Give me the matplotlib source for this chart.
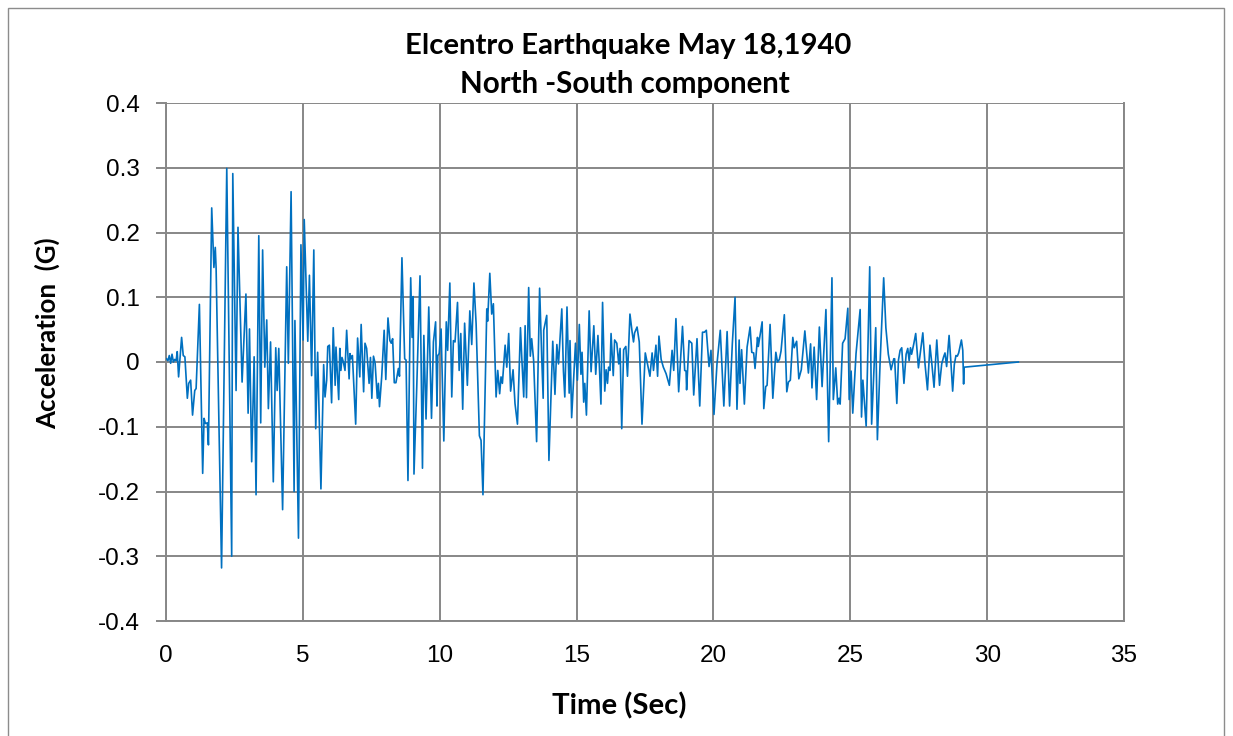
import matplotlib
matplotlib.use("Agg")
import matplotlib.pyplot as plt
from matplotlib.patches import Rectangle

title_lines = ["Elcentro Earthquake May 18,1940", "North -South component"]
x_label = "Time (Sec)"
y_label = "Acceleration  (G)"
x_ticks = [0, 5, 10, 15, 20, 25, 30, 35]
y_ticks = [-0.4, -0.3, -0.2, -0.1, 0.0, 0.1, 0.2, 0.3, 0.4]
y_tick_labels = ["-0.4", "-0.3", "-0.2", "-0.1", "0", "0.1", "0.2", "0.3", "0.4"]

# Ground acceleration record (time in seconds, acceleration in g)
time_s = [
    0.02, 0.07, 0.12, 0.17, 0.22, 0.27, 0.32, 0.37, 0.41, 0.46, 0.51, 0.57, 0.63, 0.69,
    0.78, 0.83, 0.90, 0.97, 1.05, 1.10, 1.22, 1.34, 1.39, 1.44, 1.51, 1.55, 1.67, 1.75,
    1.80, 1.83, 2.03, 2.22, 2.40, 2.44, 2.56, 2.63, 2.78, 2.92, 3.00, 3.05, 3.13, 3.22,
    3.29, 3.39, 3.46, 3.53, 3.61, 3.68,
    3.74, 3.82, 3.92, 4.01, 4.06, 4.12, 4.26, 4.41, 4.47, 4.57, 4.68, 4.71, 4.84, 4.93,
    5.01, 5.05, 5.18, 5.24, 5.32, 5.40, 5.47, 5.54, 5.66, 5.76, 5.81, 5.87, 5.91, 5.97,
    6.05, 6.11, 6.18, 6.21, 6.31, 6.35, 6.39, 6.43, 6.48, 6.54, 6.60, 6.69, 6.72, 6.76,
    6.81, 6.93, 7.00, 7.08, 7.13, 7.22, 7.27, 7.33, 7.42, 7.47, 7.52, 7.58, 7.64,
    7.72, 7.76, 7.80, 7.88, 7.97, 8.03, 8.11, 8.18, 8.23, 8.28, 8.34, 8.40, 8.49, 8.53,
    8.62, 8.72, 8.77, 8.84, 8.94, 8.99, 9.03, 9.06, 9.16, 9.28, 9.37, 9.42, 9.50, 9.60,
    9.70, 9.77, 9.85, 9.90, 9.93, 9.98, 10.05, 10.15, 10.24, 10.29, 10.37, 10.44, 10.50,
    10.56, 10.65, 10.71, 10.77, 10.84, 10.91, 11.01, 11.10, 11.17, 11.25, 11.33, 11.45,
    11.51, 11.58, 11.72, 11.75, 11.83, 11.90, 11.96, 12.06, 12.12, 12.19, 12.24, 12.29,
    12.39, 12.45, 12.52, 12.59, 12.68, 12.75, 12.84, 12.95, 13.00, 13.07, 13.12, 13.17,
    13.25, 13.31, 13.36, 13.43, 13.54, 13.65, 13.73, 13.78, 13.80, 13.91, 13.99, 14.13,
    14.21, 14.28, 14.34, 14.46, 14.52, 14.57, 14.65, 14.73, 14.76, 14.82, 14.96, 15.03,
    15.10, 15.16, 15.20, 15.26,
    15.30, 15.36, 15.46, 15.53, 15.63, 15.70, 15.78, 15.83, 15.89, 15.95, 16.03, 16.08,
    16.13, 16.17, 16.22, 16.26, 16.34, 16.39, 16.47, 16.54, 16.59, 16.65, 16.72, 16.80,
    16.86, 16.95, 17.03, 17.08, 17.12, 17.21, 17.29, 17.39, 17.51, 17.59, 17.68, 17.76,
    17.81, 17.90, 17.96, 18.01, 18.09, 18.17, 18.27, 18.39, 18.49, 18.55, 18.63, 18.73,
    18.87, 18.95, 19.00,
    19.02, 19.11, 19.21, 19.28, 19.40, 19.50, 19.60, 19.67, 19.74, 19.84, 19.91, 20.02,
    20.13, 20.25, 20.38, 20.50, 20.59, 20.69, 20.79, 20.86, 20.94, 20.97, 21.03, 21.13,
    21.23, 21.34, 21.40, 21.47, 21.52, 21.61, 21.64, 21.78, 21.84, 21.91, 21.96, 22.07,
    22.17, 22.28, 22.34, 22.41, 22.47, 22.59, 22.68, 22.74, 22.81,
    22.90, 22.95, 23.04, 23.12, 23.21, 23.34, 23.47, 23.55, 23.60, 23.68, 23.77, 23.87,
    23.97, 24.11, 24.21, 24.33, 24.38, 24.47, 24.54, 24.59, 24.63, 24.72, 24.81, 24.91,
    24.96, 25.03, 25.09, 25.21, 25.36, 25.41, 25.46, 25.58, 25.71, 25.78, 25.93, 25.99,
    26.09, 26.22, 26.30, 26.39, 26.49, 26.59, 26.62, 26.70,
    26.76, 26.82, 26.88, 26.96, 27.04, 27.10, 27.15, 27.20, 27.24, 27.32, 27.39, 27.49,
    27.56, 27.65, 27.73, 27.82, 27.91, 27.98, 28.06, 28.16, 28.26, 28.34, 28.41, 28.46,
    28.52, 28.61, 28.68, 28.74, 28.80, 28.86, 28.91, 28.96, 29.06, 29.11, 29.14, 29.16,
    31.14,
]

accel_g = [
    0.005, 0.002, 0.010, -0.002, 0.012, 0.000, 0.004, 0.002, 0.016, -0.023, 0.005, 0.038, 0.010, 0.008,
    -0.056, -0.033, -0.028, -0.082, -0.044, -0.041, 0.089, -0.172, -0.087, -0.095, -0.094, -0.128, 0.238, 0.146,
    0.177, 0.146, -0.318, 0.299, -0.300, 0.291, -0.044, 0.208, -0.031, 0.105, -0.079, 0.051, -0.154, 0.008,
    -0.205, 0.195, -0.094, 0.173, -0.008, 0.065,
    -0.072, 0.031, -0.185, 0.022, -0.044, 0.021, -0.228, 0.147, -0.002, 0.263, -0.200, 0.064, -0.272, 0.181,
    0.034, 0.220, 0.032, 0.134, -0.021, 0.173, -0.103, 0.015, -0.196, -0.004, -0.054, -0.028, 0.024, 0.026,
    -0.063, 0.053, -0.036, 0.023, -0.058, 0.021, -0.013, 0.007, 0.000, -0.013, 0.049, -0.026, 0.013, 0.005,
    0.010, -0.096, 0.037, -0.023, 0.058, -0.046, 0.029, 0.021, -0.033, 0.007, -0.056, 0.009, -0.002,
    -0.056, -0.033, -0.069, -0.023, 0.049, -0.027, 0.068, 0.033, 0.029, 0.036, -0.032, -0.032, -0.010, -0.022,
    0.161, 0.005, 0.003, -0.183, 0.130, 0.038, 0.101, -0.173, -0.040, 0.133, -0.164, 0.041, -0.088, 0.085,
    -0.087, 0.031, 0.062, -0.068, 0.010, 0.013, 0.051, -0.122, 0.062, 0.018, 0.122, -0.054, 0.033,
    0.031, 0.092, -0.013, 0.044, -0.073, 0.060, -0.036, 0.079, 0.027, 0.122, 0.059, -0.114,
    -0.121, -0.205, 0.082, 0.063, 0.137, 0.074, 0.090, -0.054, -0.013, -0.049, -0.023, -0.033,
    0.026, -0.008, 0.044, -0.045, -0.012, -0.064, -0.096, 0.053, 0.005, -0.054, 0.056, -0.055,
    0.115, 0.009, 0.036, 0.003, -0.123, 0.114, 0.003, -0.056, 0.049, 0.072, -0.152, 0.032,
    -0.050, 0.027, -0.003, 0.082, -0.014, -0.054, 0.085, -0.048, 0.033, -0.086, 0.029, -0.028,
    0.058, -0.019, 0.015, -0.062,
    -0.033, -0.082, 0.079, -0.015, 0.056, -0.019, 0.041, -0.003, -0.065, 0.092, -0.045, -0.012,
    -0.033, -0.008, -0.013, 0.044, -0.021, 0.034, 0.029, -0.003, 0.021, -0.103, 0.019, 0.024,
    -0.022, 0.074, 0.046, 0.031, 0.045, 0.054, 0.031, -0.096, 0.014, -0.003, -0.022, 0.014,
    -0.013, 0.026, -0.022, 0.040, 0.004, -0.008, -0.018, -0.036, 0.018, -0.013, 0.067, -0.046,
    0.055, -0.013, -0.014,
    -0.043, 0.033, 0.029, -0.051, 0.036, -0.068, 0.046, 0.046, 0.049, -0.007, 0.018, -0.081,
    -0.003, 0.049, -0.068, 0.047, -0.068, 0.028, 0.100, -0.073, 0.034, -0.033, 0.019, -0.065,
    0.023, 0.054, 0.015, 0.014, -0.010, 0.038, 0.024, 0.062, -0.072, -0.038, -0.036, 0.058,
    -0.056, 0.015, 0.000, 0.004, 0.017, 0.073, -0.046, -0.031, -0.028,
    0.038, 0.022, 0.032, -0.026, -0.012, 0.048, -0.017, 0.028, -0.040, 0.023, -0.058, 0.054,
    -0.038, 0.081, -0.123, 0.130, -0.058, -0.009, -0.065, -0.056, -0.065, 0.029, 0.036, 0.083,
    -0.058, -0.014, -0.079, 0.013, 0.081, -0.085, -0.028, -0.099, 0.147, -0.096, 0.053, -0.120,
    0.000, 0.130, 0.053, 0.012, -0.012, 0.005, 0.005, -0.064,
    0.003, 0.018, 0.022, -0.033, 0.012, 0.021, 0.002, 0.022, 0.012, 0.028, 0.044, -0.009,
    0.015, 0.045, -0.003, -0.043, 0.026, -0.003, -0.039, 0.034, -0.036, -0.003, 0.008, 0.014,
    -0.007, 0.041, -0.003, -0.045, -0.004, 0.010, 0.009, 0.014, 0.034, 0.018, -0.034, -0.008,
    0.000,
]

GRID = "#878787"
LINE = "#0070C0"
TICK_FONT = "Liberation Sans"
LABEL_FONT = "Lato"
W, H = 1233, 736

fig = plt.figure(figsize=(W / 100, H / 100), dpi=100)
fig.patch.set_facecolor("white")

# outer chart-area border
fig.add_artist(Rectangle((8 / W, -0.05), (1224 - 8) / W, 1.05 - 8 / H,
                         transform=fig.transFigure, fill=False,
                         edgecolor="#8c8c8c", linewidth=1.0))

ax = fig.add_axes([166 / W, 1 - 621 / H, (1124 - 166) / W, (621 - 103) / H])
ax.plot(time_s, accel_g, color=LINE, linewidth=1.2, zorder=3)

ax.set_xlim(0, 35)
ax.set_ylim(-0.4, 0.4)
ax.set_xticks(x_ticks)
ax.set_yticks(y_ticks)
ax.set_yticklabels(y_tick_labels)
ax.grid(True, color=GRID, linewidth=1.4, zorder=1)
ax.set_axisbelow(True)
for side, sp in ax.spines.items():
    sp.set_color(GRID)
    sp.set_linewidth(1.4)
ax.spines["top"].set_visible(False)

ax.tick_params(axis="y", direction="out", length=7, width=1.4, color=GRID, pad=12,
               labelsize=17.5)
ax.tick_params(axis="x", length=0, pad=17, labelsize=17.5)
for lbl in ax.get_xticklabels() + ax.get_yticklabels():
    lbl.set_fontfamily(TICK_FONT)

t1 = fig.text(628 / W, 1 - 46 / H, title_lines[0], ha="center", va="center",
              fontsize=18, fontweight="bold", family=LABEL_FONT)
t2 = fig.text(625 / W, 1 - 84 / H, title_lines[1], ha="center", va="center",
              fontsize=18, fontweight="bold", family=LABEL_FONT)
tx = fig.text(619 / W, 1 - 706 / H, x_label, ha="center", va="center",
              fontsize=17, fontweight="bold", family=LABEL_FONT)
ty = fig.text(47 / W, 1 - 333 / H, y_label, ha="center", va="center", rotation=90,
              fontsize=17, fontweight="bold", family=LABEL_FONT)

# scale each label so its drawn length fills the intended span in pixels
renderer = fig.canvas.get_renderer()
for txt, span in [(t1, 447), (t2, 331), (tx, 135)]:
    bb = txt.get_window_extent(renderer)
    txt.set_fontsize(txt.get_fontsize() * span / bb.width)
# the vertical axis title is set a little smaller than the horizontal one
ty.set_fontsize(tx.get_fontsize() * 0.88)

fig.savefig("out.png", dpi=100)
